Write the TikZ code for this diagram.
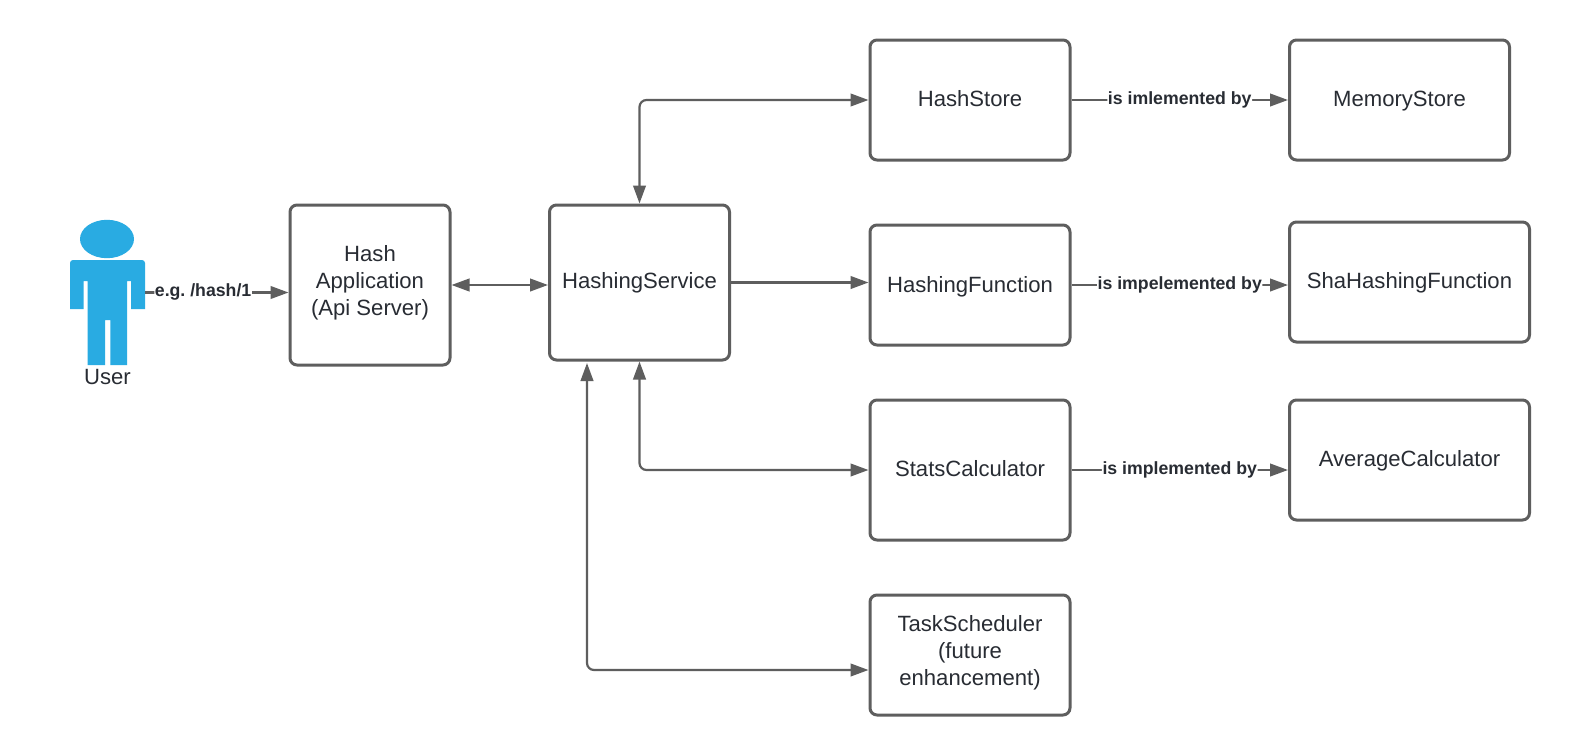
\documentclass[tikz,border=0pt]{standalone}
\usepackage{fontspec}
\setmainfont{Liberation Sans}
\usetikzlibrary{arrows.meta}
\definecolor{linegray}{HTML}{5E5E5E}
\definecolor{inktext}{HTML}{282C33}
\definecolor{personblue}{HTML}{29ABE2}
\frenchspacing
\newcommand{\tmove}[2]{\raisebox{#1}[\dimexpr\height-(#1)\relax][\dimexpr\depth+(#1)\relax]{#2}}
\tikzset{
  x=0.5pt,y=-0.5pt,
  boxnode/.style={draw=linegray,line width=1.5pt,rounded corners=3.5pt,fill=white,
    inner sep=0pt,align=center,text=inktext,font=\fontsize{11.05}{13.4}\selectfont},
  conn/.style={draw=linegray,line width=1.1pt,rounded corners=3.5pt,-{Triangle[length=9pt,width=6.3pt]}},
  biconn/.style={conn,{Triangle[length=9pt,width=6.3pt]}-{Triangle[length=9pt,width=6.3pt]}},
  lbl/.style={fill=white,inner xsep=0.3pt,inner ysep=1pt,text=inktext,
    font=\fontsize{8.85}{10}\selectfont\bfseries},
  plain/.style={text=inktext,font=\fontsize{11.05}{13.4}\selectfont,inner sep=0pt},
}
\begin{document}
\begin{tikzpicture}
\useasboundingbox[fill=white] (0,0) rectangle (1570,755);
% person
\node[minimum width=37.5pt,minimum height=72.5pt,inner sep=0pt,outer sep=0pt] (user) at (107.5,292.5) {};
\fill[personblue] (107,239) ellipse [x radius=13.5pt,y radius=9.6pt];
\fill[personblue] (70,309) -- (70,263) to[out=90,in=180] (73,260) -- (142,260) to[out=0,in=90] (145,263) -- (145,309) -- (131,309)
  -- (131,281) -- (127,281) -- (127,365) -- (110.3,365) -- (110.3,320) -- (105,320)
  -- (105,365) -- (87.5,365) -- (87.5,281) -- (83.5,281) -- (83.5,309) -- cycle;
\node[plain] (userlabel) at (107.5,377) {User};
% boxes
\node[boxnode,minimum width=80pt,minimum height=80pt] (app) at (370,285) {\tmove{0.5pt}{\begin{tabular}{@{}c@{}}Hash\\Application\\(Api Server)\end{tabular}}};
\node[boxnode,minimum width=90pt,minimum height=77.5pt] (service) at (639.5,282.5) {HashingService};
\node[boxnode,minimum width=100pt,minimum height=60pt] (store) at (970,100) {\tmove{0.25pt}{HashStore}};
\node[boxnode,minimum width=110pt,minimum height=60pt] (memory) at (1399.5,100) {\tmove{-0.25pt}{MemoryStore}};
\node[boxnode,minimum width=100pt,minimum height=60pt] (func) at (970,285) {\tmove{-0.33pt}{HashingFunction}};
\node[boxnode,minimum width=120pt,minimum height=60pt] (sha) at (1409.5,282) {\tmove{-0.25pt}{ShaHashingFunction}};
\node[boxnode,minimum width=100pt,minimum height=70pt] (stats) at (970,470) {\tmove{0.25pt}{StatsCalculator}};
\node[boxnode,minimum width=120pt,minimum height=60pt] (avg) at (1409.5,460) {\tmove{-0.15pt}{AverageCalculator}};
\node[boxnode,minimum width=100pt,minimum height=60pt] (task) at (970,655) {\tmove{0.5pt}{\begin{tabular}{@{}c@{}}TaskScheduler\\(future\\enhancement)\end{tabular}}};
\coordinate (taskentry) at (task.west |- 0,670);
\coordinate (servicelow) at (587,359);
% connectors
\draw[conn] (user.east) -- node[lbl,pos=0.405,yshift=0.5pt] (lbluser) {e.g. /hash/1} (app.west |- user.east);
\draw[biconn] (app.east) -- (service.west |- app.east);
\draw[conn] (service.east) -- (func.west |- service.east);
\draw[biconn] (service.north) |- (store.west);
\draw[biconn] (service.south) |- (stats.west);
\draw[biconn] ([yshift=-0.75pt]service.south -| servicelow) |- (taskentry);
\draw[conn] (store.east) -- node[lbl] (lblstore) {is imlemented by} (memory.west |- store.east);
\draw[conn] (func.east) -- node[lbl] (lblfunc) {is impelemented by} (sha.west |- func.east);
\draw[conn] (stats.east) -- node[lbl] (lblstats) {is implemented by} (avg.west |- stats.east);
\end{tikzpicture}
\end{document}
